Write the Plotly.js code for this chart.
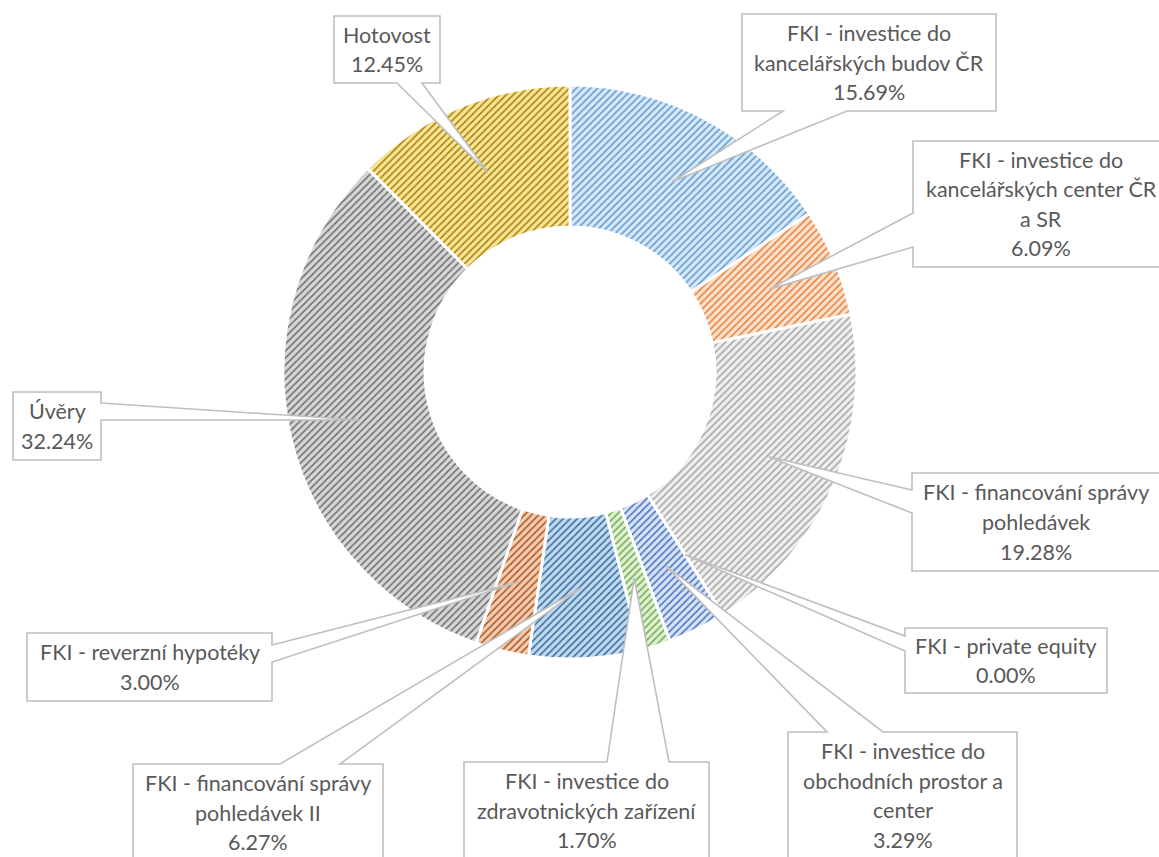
<!DOCTYPE html>
<html><head><meta charset="utf-8">
<script src="https://cdn.plot.ly/plotly-3.0.1.min.js"></script>
<style>html,body{margin:0;padding:0;background:#fff;overflow:hidden}#chart{width:1159px;height:857px}</style>
</head><body><div id="chart"></div>
<script>
// ---- data ----
const categories = [
  'FKI - investice do kancelářských budov ČR',
  'FKI - investice do kancelářských center ČR a SR',
  'FKI - financování správy pohledávek',
  'FKI - private equity',
  'FKI - investice do obchodních prostor a center',
  'FKI - investice do zdravotnických zařízení',
  'FKI - financování správy pohledávek II',
  'FKI - reverzní hypotéky',
  'Úvěry',
  'Hotovost'
];
const shares = [15.69, 6.09, 19.28, 0.00, 3.29, 1.70, 6.27, 3.00, 32.24, 12.45];
const labelLines = [
  ['FKI - investice do', 'kancelářských budov ČR'],
  ['FKI - investice do', 'kancelářských center ČR', 'a SR'],
  ['FKI - financování správy', 'pohledávek'],
  ['FKI - private equity'],
  ['FKI - investice do', 'obchodních prostor a', 'center'],
  ['FKI - investice do', 'zdravotnických zařízení'],
  ['FKI - financování správy', 'pohledávek II'],
  ['FKI - reverzní hypotéky'],
  ['Úvěry'],
  ['Hotovost']
];

// ---- styles ----
const lineColors = ['#5B9BD5','#ED7D31','#A5A5A5','#FFC000','#4472C4','#70AD47','#2E6DA8','#B0541A','#6E6E6E','#A88000'];
const tintColors = ['#D9E8F7','#FBE2D0','#EFEFEF','#FFF0C0','#D8E2F5','#E0EFD6','#C4D8EC','#F2CDB3','#D6D6D6','#F7E39A'];

const W = 1159, H = 857;
const CX = 570, CY = 372, R = 287, HOLE = 0.505, R_TIP = 216;
const LINE_STEP = 29.5;

// callout boxes: [left, top, right, bottom] in px, side of the pointer, pointer base along that side
const callouts = [
  {box:[742,14,996,111],  side:'bottom', base:[783,847]},
  {box:[913,141,1169,267],side:'left',   base:[213,247]},
  {box:[912,473,1160,571],side:'left',   base:[490,513]},
  {box:[905,628,1107,693],side:'left',   base:[636,651]},
  {box:[788,732,1017,859],side:'top',    base:[827,883]},
  {box:[464,762,709,859], side:'top',    base:[607,669]},
  {box:[133,764,383,861], side:'top',    base:[280,340]},
  {box:[27,633,272,701],  side:'right',  base:[645,662]},
  {box:[13,392,101,460],  side:'right',  base:[403,420]},
  {box:[334,16,440,83],   side:'bottom', base:[397,422]}
];

const domain = {x:[(CX-R)/W, (CX+R)/W], y:[1-(CY+R)/H, 1-(CY-R)/H]};
const px = x => x / W, py = y => 1 - y / H;

// tips from data (mid-angle of each slice, clockwise from 12 o'clock)
const total = shares.reduce((a,b)=>a+b,0);
let cum = 0;
const tips = shares.map(v => {
  const mid = (cum + v/2) / total * 2 * Math.PI;
  cum += v;
  return [CX + R_TIP*Math.sin(mid), CY - R_TIP*Math.cos(mid)];
});

const shapes = [], annotations = [];
callouts.forEach((c, i) => {
  const [L,T,Rr,B] = c.box, [b1,b2] = c.base, [tx,ty] = tips[i];
  const pts = [[L,T]];
  if (c.side==='top') pts.push([b1,T],[tx,ty],[b2,T]);
  pts.push([Rr,T]);
  if (c.side==='right') pts.push([Rr,b1],[tx,ty],[Rr,b2]);
  pts.push([Rr,B]);
  if (c.side==='bottom') pts.push([b2,B],[tx,ty],[b1,B]);
  pts.push([L,B]);
  if (c.side==='left') pts.push([L,b2],[tx,ty],[L,b1]);
  const path = pts.map((p,k)=>(k?'L':'M')+px(p[0]).toFixed(5)+','+py(p[1]).toFixed(5)).join(' ')+' Z';
  shapes.push({type:'path', xref:'paper', yref:'paper', path, layer:'above',
    fillcolor:'#FFFFFF', line:{color:'#BFBFBF', width:1.6}});
  const lines = labelLines[i].concat([shares[i].toFixed(2)+'%']);
  const n = lines.length, mx = (L+Rr)/2, my = (T+B)/2;
  lines.forEach((t,k) => {
    annotations.push({xref:'paper', yref:'paper', x:px(mx), y:py(my + (k-(n-1)/2)*LINE_STEP),
      xanchor:'center', yanchor:'middle', showarrow:false, text:t,
      font:{family:'Lato, "Liberation Sans", sans-serif', size:21.5, color:'#595959'}});
  });
});

const trace = {
  type:'pie', labels:categories, values:shares, sort:false, direction:'clockwise', rotation:0,
  hole:HOLE, domain, textinfo:'none', hoverinfo:'label+percent',
  marker:{colors:tintColors, line:{color:'#FFFFFF', width:3},
    pattern:{shape:'/', fgcolor:lineColors, bgcolor:tintColors, size:5, solidity:0.3, fillmode:'replace'}}
};

Plotly.newPlot('chart', [trace], {
  width:W, height:H, margin:{l:0,r:0,t:0,b:0}, showlegend:false,
  paper_bgcolor:'#FFFFFF', plot_bgcolor:'#FFFFFF', shapes, annotations
}, {displayModeBar:false, staticPlot:true});
</script></body></html>
